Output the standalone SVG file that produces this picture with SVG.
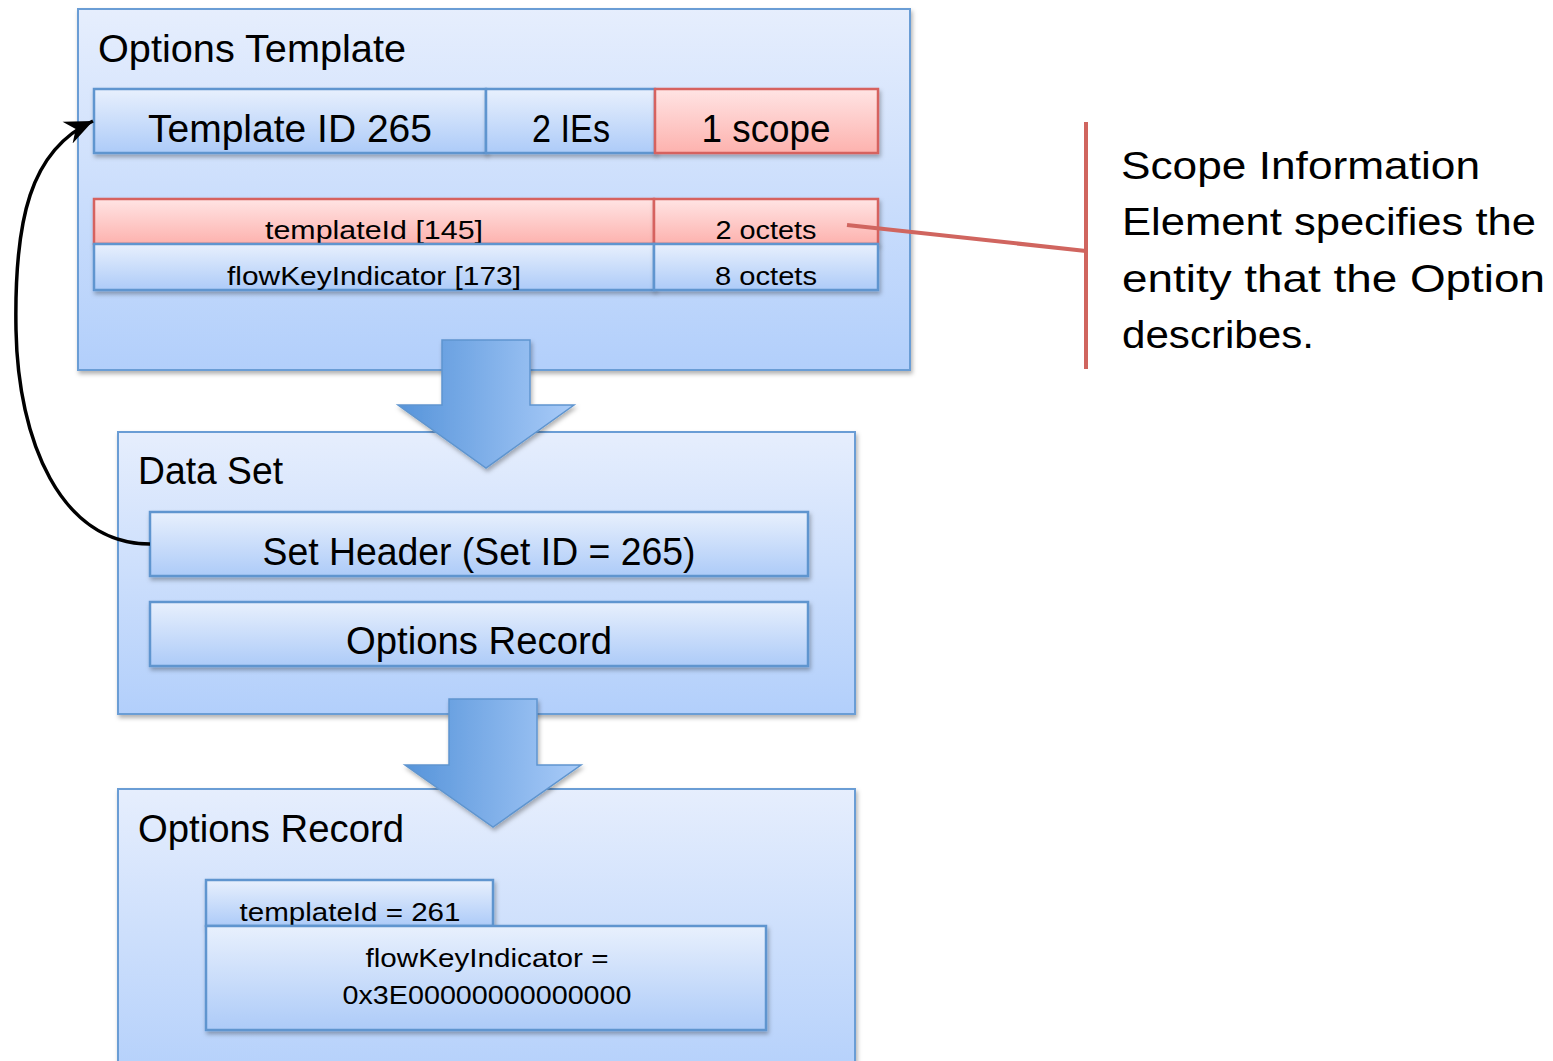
<svg xmlns="http://www.w3.org/2000/svg" width="1553" height="1061" viewBox="0 0 1553 1061">
<defs>
<linearGradient id="gBox" x1="0" y1="0" x2="0" y2="1"><stop offset="0" stop-color="#e6eefd"/><stop offset="1" stop-color="#b2cffb"/></linearGradient>
<linearGradient id="gCell" x1="0" y1="0" x2="0" y2="1"><stop offset="0" stop-color="#e8f0fd"/><stop offset="1" stop-color="#adcbf8"/></linearGradient>
<linearGradient id="gRed" x1="0" y1="0" x2="0" y2="1"><stop offset="0" stop-color="#ffe4e4"/><stop offset="1" stop-color="#fdb2ae"/></linearGradient>
<linearGradient id="gArrow" x1="0" y1="0" x2="1" y2="0"><stop offset="0" stop-color="#5694da"/><stop offset="1" stop-color="#a9cbf8"/></linearGradient>
<filter id="sh" x="-10%" y="-10%" width="120%" height="130%"><feDropShadow dx="1.5" dy="3" stdDeviation="2" flood-color="#000" flood-opacity="0.3"/></filter>
<marker id="ah" markerWidth="32" markerHeight="28" refX="28" refY="14" orient="auto" markerUnits="userSpaceOnUse"><path d="M0,2 L28,14 L0,26 L9,14 Z" fill="#000"/></marker>
</defs>
<style>
.box{fill:url(#gBox);stroke:#6a9dd5;stroke-width:2;filter:url(#sh)}
.cell{fill:url(#gCell);stroke:#5f95cf;stroke-width:2.5;filter:url(#sh)}
.red{fill:url(#gRed);stroke:#d6625e;stroke-width:2.5;filter:url(#sh)}
.arrow{fill:url(#gArrow);stroke:#5f95cf;stroke-width:1.5;filter:url(#sh)}
text{font-family:"Liberation Sans",Arial,sans-serif;fill:#000}
.t38{font-size:38px}
.t27{font-size:26px}
.c{text-anchor:middle}
.note{font-size:39px}
</style>

<g id="options-template">
<rect class="box" x="78" y="9" width="832" height="361"/>
<text class="t38" x="98" y="62" textLength="308" lengthAdjust="spacingAndGlyphs">Options Template</text>
</g>
<g id="template-id">
<rect class="cell" x="94" y="89" width="392" height="64"/>
<text class="t38 c" x="290" y="142" textLength="284" lengthAdjust="spacingAndGlyphs">Template ID 265</text>
</g>
<g id="ies">
<rect class="cell" x="486" y="89" width="169" height="64"/>
<text class="t38 c" x="571" y="142" textLength="78" lengthAdjust="spacingAndGlyphs">2 IEs</text>
</g>
<g id="scope">
<rect class="red" x="655" y="89" width="223" height="64"/>
<text class="t38 c" x="766" y="142" textLength="129" lengthAdjust="spacingAndGlyphs">1 scope</text>
</g>
<g id="templateid-field">
<rect class="red" x="94" y="199" width="560" height="45"/>
<text class="t27 c" x="374" y="239" textLength="218" lengthAdjust="spacingAndGlyphs">templateId [145]</text>
</g>
<g id="templateid-len">
<rect class="red" x="654" y="199" width="224" height="45"/>
<text class="t27 c" x="766" y="239" textLength="101" lengthAdjust="spacingAndGlyphs">2 octets</text>
</g>
<g id="flowkey-field">
<rect class="cell" x="94" y="244" width="560" height="46"/>
<text class="t27 c" x="374" y="285" textLength="294" lengthAdjust="spacingAndGlyphs">flowKeyIndicator [173]</text>
</g>
<g id="flowkey-len">
<rect class="cell" x="654" y="244" width="224" height="46"/>
<text class="t27 c" x="766" y="285" textLength="102" lengthAdjust="spacingAndGlyphs">8 octets</text>
</g>

<g id="data-set">
<rect class="box" x="118" y="432" width="737" height="282"/>
<text class="t38" x="138" y="484" textLength="145" lengthAdjust="spacingAndGlyphs">Data Set</text>
</g>
<g id="set-header">
<rect class="cell" x="150" y="512" width="658" height="64"/>
<text class="t38 c" x="479" y="565" textLength="433" lengthAdjust="spacingAndGlyphs">Set Header (Set ID = 265)</text>
</g>
<g id="options-record-row">
<rect class="cell" x="150" y="602" width="658" height="64"/>
<text class="t38 c" x="479" y="654" textLength="266" lengthAdjust="spacingAndGlyphs">Options Record</text>
</g>

<g id="options-record">
<rect class="box" x="118" y="789" width="737" height="300"/>
<text class="t38" x="138" y="842" textLength="266" lengthAdjust="spacingAndGlyphs">Options Record</text>
</g>
<g id="templateid-value">
<rect class="cell" x="206" y="880" width="287" height="46"/>
<text class="t27 c" x="350" y="921" textLength="221" lengthAdjust="spacingAndGlyphs">templateId = 261</text>
</g>
<g id="flowkey-value">
<rect class="cell" x="206" y="926" width="560" height="104"/>
<text class="t27 c" x="487" y="967" textLength="243" lengthAdjust="spacingAndGlyphs">flowKeyIndicator =</text>
<text class="t27 c" x="487" y="1004" textLength="289" lengthAdjust="spacingAndGlyphs">0x3E00000000000000</text>
</g>

<g id="arrow1">
<path class="arrow" d="M442,340 H530 V405 H574 L486,468 L398,405 H442 Z"/>
</g>
<g id="arrow2">
<path class="arrow" d="M449,699 H537 V765 H581 L493,827 L405,765 H449 Z"/>
</g>

<g id="note">
<text class="note" x="1121" y="179" textLength="359" lengthAdjust="spacingAndGlyphs">Scope Information</text>
<text class="note" x="1122" y="235" textLength="414" lengthAdjust="spacingAndGlyphs">Element specifies the</text>
<text class="note" x="1122" y="292" textLength="423" lengthAdjust="spacingAndGlyphs">entity that the Option</text>
<text class="note" x="1122" y="348" textLength="192" lengthAdjust="spacingAndGlyphs">describes.</text>
</g>

<g id="connectors" fill="none">
<path d="M150,544 C60,544 18,440 16,330 C14,220 30,150 93,121" stroke="#000" stroke-width="3.5" marker-end="url(#ah)"/>
<path d="M1086,122 V369" stroke="#d0655f" stroke-width="4"/>
<path d="M847,225 L1086,251" stroke="#d0655f" stroke-width="4"/>
</g>
</svg>
